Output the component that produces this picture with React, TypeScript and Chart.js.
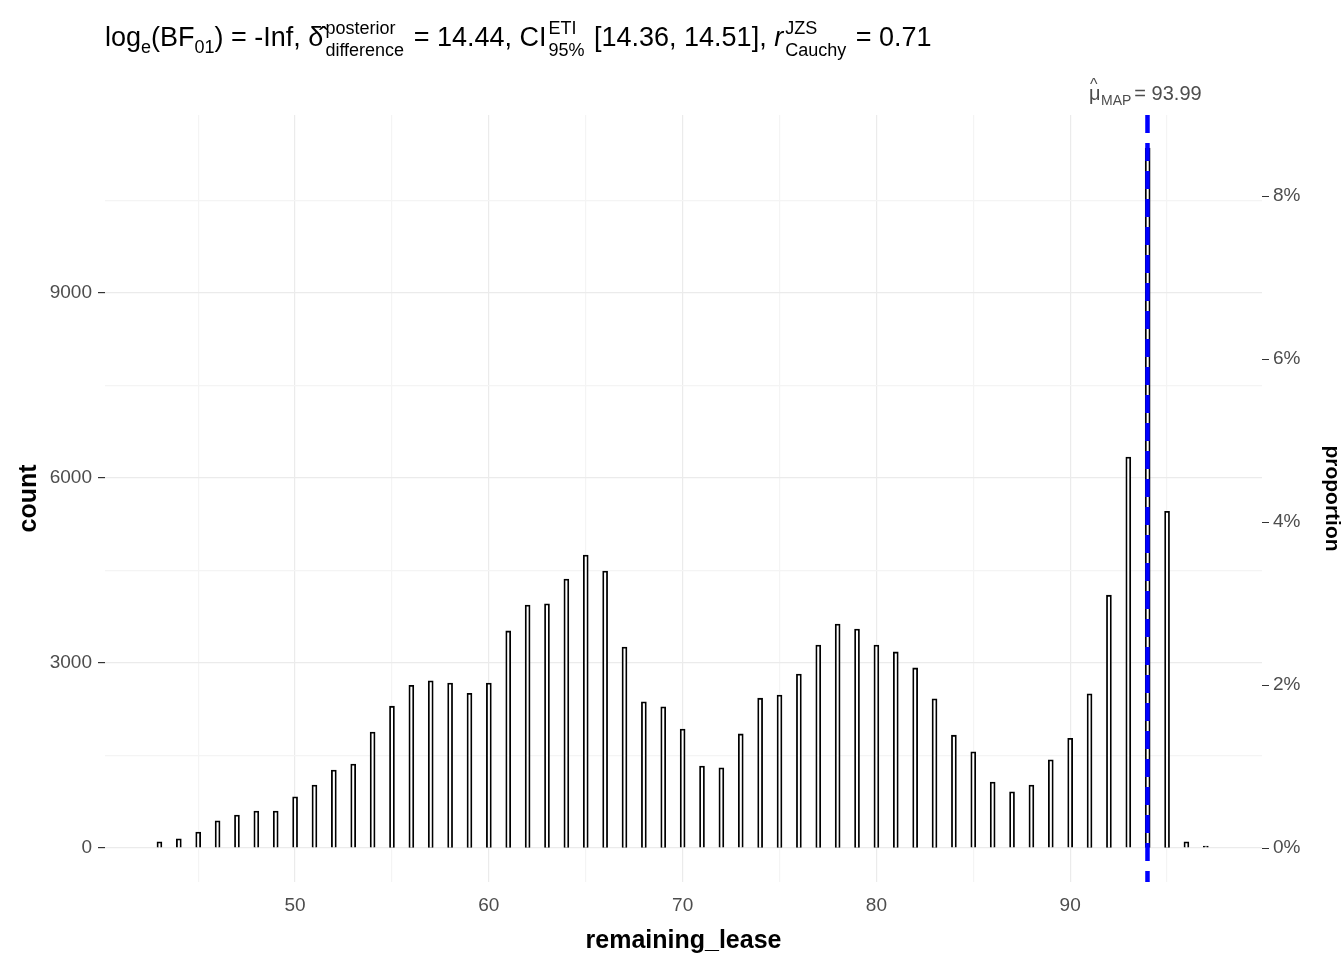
import React, { useEffect, useRef } from 'react';
import Chart from 'chart.js/auto';

const binCenters: number[] = [
  43, 44, 45, 46, 47, 48, 49, 50, 51, 52, 53, 54, 55, 56, 57, 58, 59, 60, 61, 62, 63, 64, 65, 66, 67, 68, 69, 70,
  71, 72, 73, 74, 75, 76, 77, 78, 79, 80, 81, 82, 83, 84, 85, 86, 87, 88, 89, 90, 91, 92, 93, 94, 95, 96, 97,
];
const counts: number[] = [
  100, 150, 260, 440, 535, 600, 600, 830, 1020, 1265, 1360, 1880, 2300, 2640, 2710, 2675, 2510, 2675, 3520, 3940,
  3960, 4360, 4750, 4490, 3260, 2370, 2290, 1930, 1330, 1300, 1850, 2430, 2480, 2820, 3290, 3630, 3550, 3290, 3180,
  2920, 2420, 1830, 1560, 1070, 910, 1020, 1430, 1780, 2500, 4100, 6340, 11350, 5460, 100, 30,
];
const total = 132150;
const mapValue = 93.99;
const xTicks = [45, 50, 55, 60, 65, 70, 75, 80, 85, 90, 95];
const xLabelTicks = [50, 60, 70, 80, 90];
const yTicks = [0, 1500, 3000, 4500, 6000, 7500, 9000, 10500];
const yLabelTicks = [0, 3000, 6000, 9000];
const propTicks = [0, 0.01, 0.02, 0.03, 0.04, 0.05, 0.06, 0.07, 0.08];
const propLabelTicks = [0, 0.02, 0.04, 0.06, 0.08];

const FONT = "'Liberation Sans', Arial, sans-serif";
const yMin = -551;
const yMax = 11886;

const isMajor = (list: number[], v: number) => list.some((t) => Math.abs(t - v) < 1e-9);

const mapLine = {
  id: 'mapLine',
  afterDatasetsDraw(chart: any) {
    const { ctx, chartArea, scales } = chart;
    const x = scales.x.getPixelForValue(mapValue);
    ctx.save();
    ctx.strokeStyle = '#0000FF';
    ctx.lineWidth = 4.5;
    ctx.setLineDash([18, 10]);
    ctx.beginPath();
    ctx.moveTo(x, chartArea.top);
    ctx.lineTo(x, chartArea.bottom);
    ctx.stroke();
    ctx.setLineDash([]);
    ctx.fillStyle = '#4D4D4D';
    ctx.textBaseline = 'alphabetic';
    ctx.font = `20px ${FONT}`;
    const y = 100;
    let cx = 1089;
    ctx.fillText('μ', cx, y);
    ctx.font = `16px ${FONT}`;
    ctx.fillText('^', cx + 1, y - 10);
    cx += 12;
    ctx.font = `14px ${FONT}`;
    ctx.fillText('MAP', cx, y + 5);
    cx += ctx.measureText('MAP').width + 3;
    ctx.font = `20px ${FONT}`;
    ctx.fillText('= 93.99', cx, y);
    ctx.restore();
  },
};

const Stack: React.FC<{ sup: string; sub: string }> = ({ sup, sub }) => (
  <span style={{ display: 'inline-flex', flexDirection: 'column', verticalAlign: 'middle', fontSize: 18, lineHeight: '22px', margin: '0 2px' }}>
    <span>{sup}</span>
    <span>{sub}</span>
  </span>
);

const App: React.FC = () => {
  const ref = useRef<HTMLCanvasElement>(null);

  useEffect(() => {
    if (!ref.current) return;
    const gridCfg = (majors: number[]) => ({
      color: (c: any) => (c.tick && isMajor(majors, c.tick.value) ? '#EBEBEB' : '#F4F4F4'),
      lineWidth: 1.2,
    });
    const chart = new Chart(ref.current, {
      type: 'bar',
      data: {
        datasets: [
          {
            data: binCenters.map((x, i) => ({ x, y: counts[i] })),
            backgroundColor: '#FFFFFF',
            borderColor: '#000000',
            borderWidth: 1.8,
            barThickness: 5,
            yAxisID: 'y',
          },
        ],
      },
      options: {
        animation: false,
        responsive: false,
        layout: { padding: { top: 115, left: 0, right: 0, bottom: 0 } },
        plugins: { legend: { display: false }, tooltip: { enabled: false } },
        scales: {
          x: {
            type: 'linear',
            offset: false,
            min: 40.19,
            max: 99.9,
            afterBuildTicks: (s: any) => { s.ticks = xTicks.map((v) => ({ value: v })); },
            afterFit: (s: any) => { s.height = 78; },
            border: { display: false },
            grid: { ...gridCfg(xLabelTicks), drawTicks: false, offset: false },
            ticks: {
              padding: 12,
              color: '#4D4D4D',
              font: { family: FONT, size: 19 },
              maxRotation: 0,
              callback: (v: any) => (isMajor(xLabelTicks, v) ? String(v) : ''),
            },
            title: { display: true, text: 'remaining_lease', color: '#000', font: { family: FONT, size: 25, weight: 'bold' }, padding: { top: 0 } },
          },
          y: {
            position: 'left',
            min: yMin,
            max: yMax,
            afterBuildTicks: (s: any) => { s.ticks = yTicks.map((v) => ({ value: v })); },
            afterFit: (s: any) => { s.width = 105; },
            border: { display: false },
            grid: {
              ...gridCfg(yLabelTicks),
              tickLength: 7,
              tickColor: (c: any) => (c.tick && isMajor(yLabelTicks, c.tick.value) ? '#333333' : 'rgba(0,0,0,0)'),
            },
            ticks: {
              padding: 6,
              color: '#4D4D4D',
              font: { family: FONT, size: 19 },
              callback: (v: any) => (isMajor(yLabelTicks, v) ? String(v) : ''),
            },
            title: { display: true, text: 'count', color: '#000', font: { family: FONT, size: 25, weight: 'bold' }, padding: { top: 14, bottom: 0 } },
          },
          y2: {
            position: 'right',
            min: yMin / total,
            max: yMax / total,
            afterBuildTicks: (s: any) => { s.ticks = propTicks.map((v) => ({ value: v })); },
            afterFit: (s: any) => { s.width = 82; },
            border: { display: false },
            grid: {
              drawOnChartArea: false,
              tickLength: 7,
              tickColor: (c: any) => (c.tick && isMajor(propLabelTicks, c.tick.value) ? '#333333' : 'rgba(0,0,0,0)'),
            },
            ticks: {
              padding: 4,
              color: '#4D4D4D',
              font: { family: FONT, size: 19 },
              callback: (v: any) => (isMajor(propLabelTicks, v) ? `${Math.round(v * 100)}%` : ''),
            },
            title: { display: true, text: 'proportion', color: '#000', font: { family: FONT, size: 21, weight: 'bold' }, padding: { top: 0, bottom: 14 } },
          },
        },
      } as any,
      plugins: [mapLine],
    });
    return () => chart.destroy();
  }, []);

  return (
    <div style={{ position: 'fixed', left: 0, top: 0, width: 1344, height: 960, background: '#fff' }}>
      <canvas ref={ref} width={1344} height={960} style={{ position: 'absolute', left: 0, top: 0 }} />
      <div style={{ position: 'absolute', left: 105, top: 17, fontFamily: FONT, fontSize: 27, color: '#000', whiteSpace: 'nowrap' }}>
        log<sub style={{ fontSize: 18 }}>e</sub>(BF<sub style={{ fontSize: 18 }}>01</sub>) = -Inf, δ̂
        <Stack sup="posterior" sub="difference" /> = 14.44, CI
        <Stack sup="ETI" sub="95%" /> [14.36, 14.51], <i>r</i>
        <Stack sup="JZS" sub="Cauchy" /> = 0.71
      </div>
    </div>
  );
};

export default App;
